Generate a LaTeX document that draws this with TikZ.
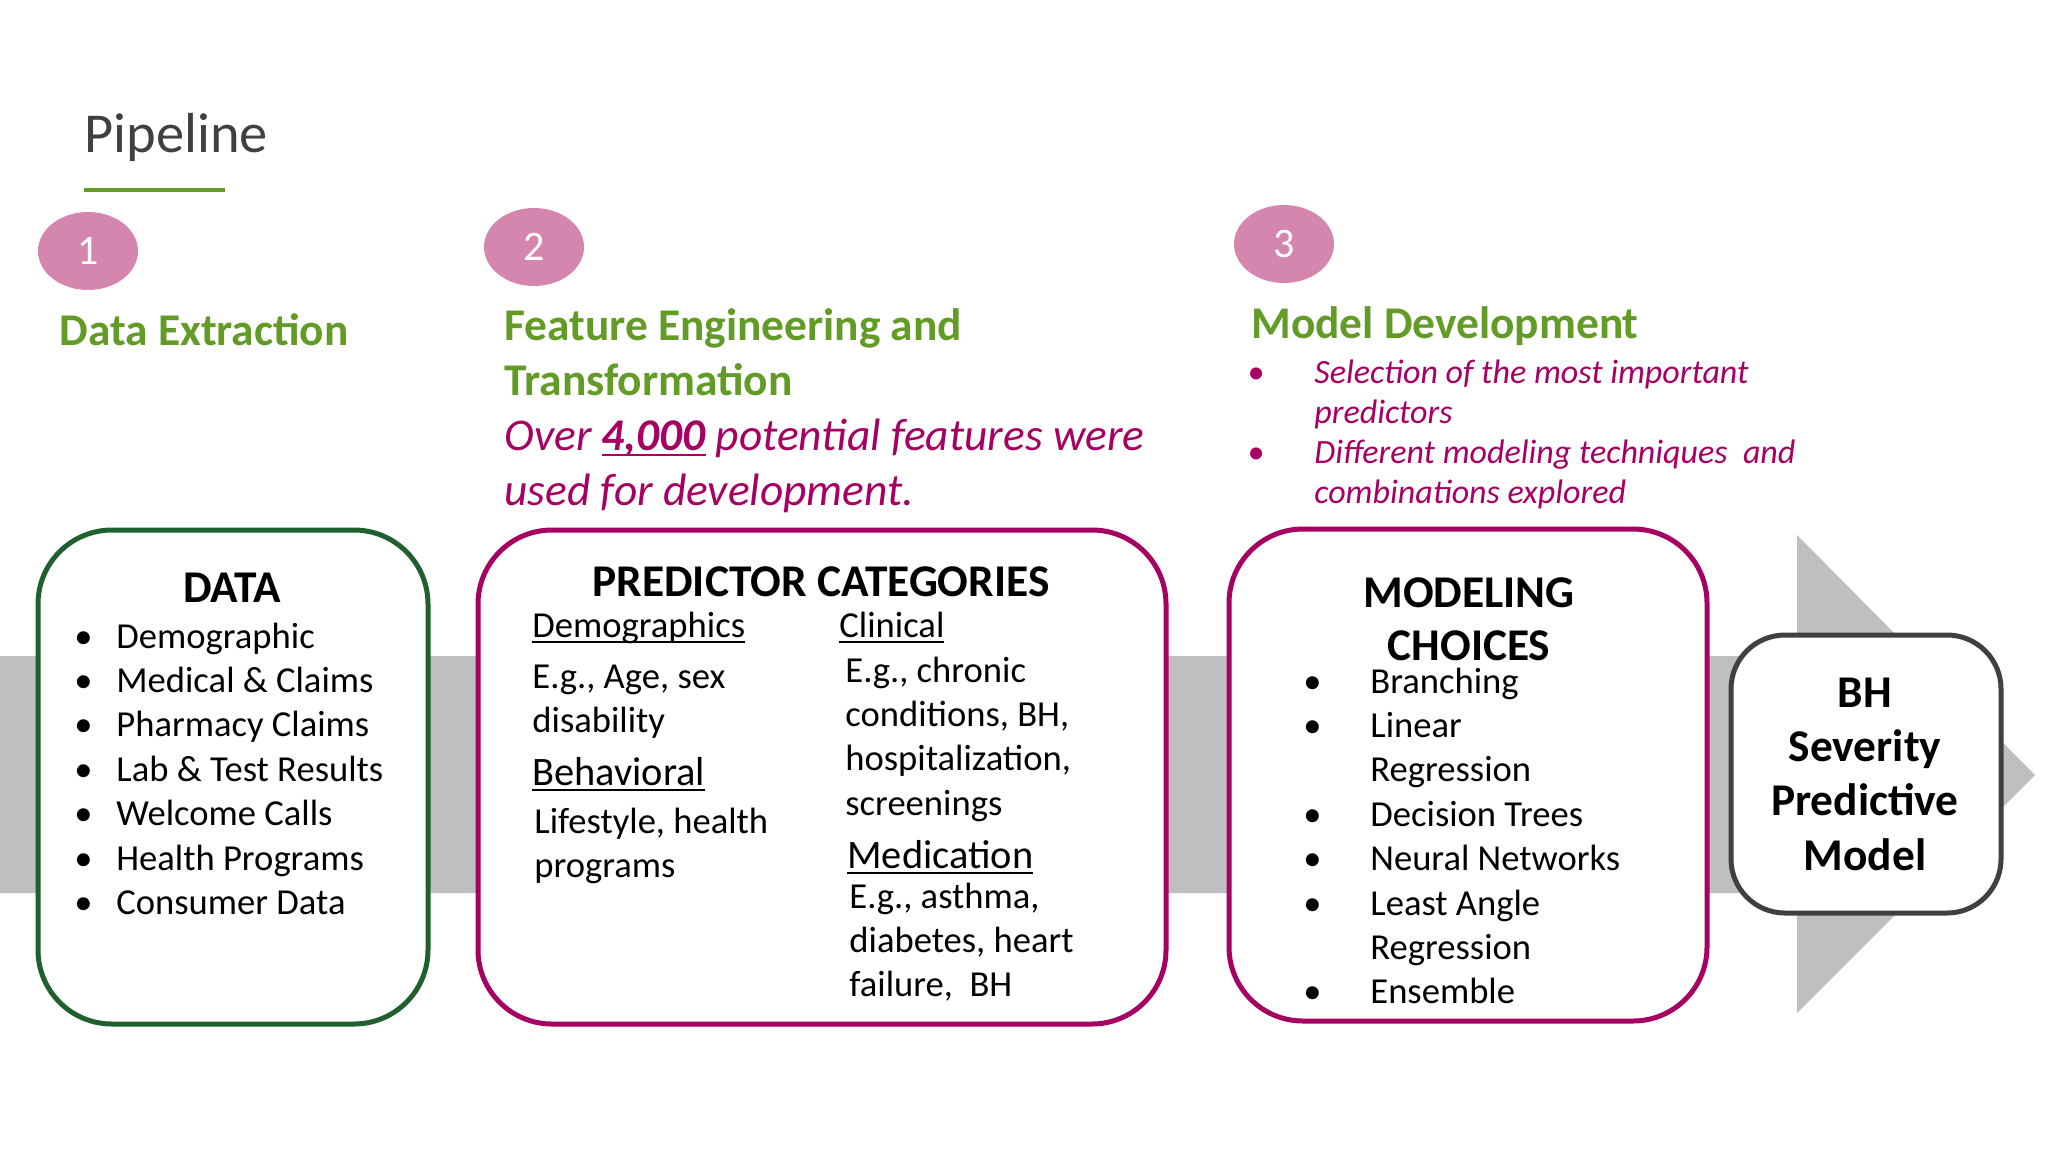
\documentclass[tikz,border=0pt]{standalone}
\usepackage{fontspec}
\setmainfont{Carlito}
\usetikzlibrary{positioning}

\definecolor{headgreen}{RGB}{98,155,38}
\definecolor{boxgreen}{RGB}{32,96,46}
\definecolor{plum}{RGB}{166,0,98}
\definecolor{bubble}{RGB}{212,134,174}
\definecolor{band}{RGB}{191,191,193}
\definecolor{ink}{RGB}{64,64,64}

\newcommand\ulx[1]{\setbox0\hbox{#1}\rlap{\rule[-3.2pt]{\wd0}{1.4pt}}#1}
\newcommand\bulw[1]{\makebox[#1][l]{\textbullet}}
% first line of a block sits on the node's base
\newcommand\leftlines[1]{\begin{tabular}[t]{@{}l@{}}#1\end{tabular}}
\newcommand\midlines[1]{\begin{tabular}[t]{@{}c@{}}#1\end{tabular}}

\begin{document}
\begin{tikzpicture}[x=0.5pt, y=-0.5pt,
    stepnum/.style={text=white, font=\fontsize{21}{25}\selectfont},
    heading/.style={anchor=base west, inner sep=0pt, text=headgreen,
      font=\fontsize{22.7}{27.5}\selectfont\bfseries},
    note/.style={anchor=base west, inner sep=0pt, text=plum},
    roundbox/.style={draw, fill=white, line width=2.5pt, rounded corners=37pt},
    boxtitle/.style={anchor=base, inner sep=0pt, font=\fontsize{22.7}{26.5}\selectfont\bfseries},
    body/.style={anchor=base west, inner sep=0pt, font=\fontsize{18.3}{22.2}\selectfont},
    cat/.style={anchor=base west, inner sep=0pt, font=\fontsize{20.2}{24}\selectfont}]
  \useasboundingbox (0,0) rectangle (2048,1152);

  % grey arrow behind the boxes
  \fill[band] (0,656) -- (1797,656) -- (1797,535) -- (2035,775) -- (1797,1013) -- (1797,893) -- (0,893) -- cycle;

  % title
  \node[anchor=base west, inner sep=0pt, text=ink, font=\fontsize{28.2}{32}\selectfont] (title) at (84,152) {Pipeline};
  \draw[headgreen, line width=2pt] (84,190) -- (225,190);

  % steps
  \fill[bubble] (88,251) ellipse [x radius=50, y radius=39];
  \node[stepnum] (one) at (88,251) {1};
  \fill[bubble] (534,247) ellipse [x radius=50, y radius=39];
  \node[stepnum] (two) at (534,247) {2};
  \fill[bubble] (1284,244) ellipse [x radius=50, y radius=39];
  \node[stepnum] (three) at (1284,244) {3};

  \node[heading] (extract) at (59,345) {Data Extraction};
  \node[heading] (feature) at (504,340) {\leftlines{Feature Engineering and\\Transformation}};
  \node[note, font=\fontsize{22.7}{27.5}\selectfont\itshape] (over) at (504,450)
    {\leftlines{Over \ulx{\textbf{4,000}} potential features were\\used for development.}};
  \node[heading] (modeldev) at (1251,338) {Model Development};
  \node[note, font=\fontsize{17}{20}\selectfont\itshape] (selection) at (1247,383)
    {\leftlines{\bulw{33.5pt}Selection of the most important\\\hspace{33.5pt}predictors\\
     \bulw{33.5pt}Different modeling techniques~ and\\\hspace{33.5pt}combinations explored}};

  % boxes
  \node[roundbox, draw=boxgreen, minimum width=195pt, minimum height=247pt] (data) at (233,777) {};
  \node[roundbox, draw=plum, minimum width=344pt, minimum height=247pt] (pred) at (822,777) {};
  \node[roundbox, draw=plum, minimum width=239pt, minimum height=246pt] (modeling) at (1468,775) {};
  \node[roundbox, draw=ink, rounded corners=27pt, minimum width=135pt, minimum height=139pt] (bh) at (1866,774) {};

  % data box
  \node[boxtitle] (datatitle) at (232,602) {DATA};
  \node[body] (datalist) at (74,648)
    {\leftlines{\bulw{21pt}Demographic\\\bulw{21pt}Medical \& Claims\\\bulw{21pt}Pharmacy Claims\\
     \bulw{21pt}Lab \& Test Results\\\bulw{21pt}Welcome Calls\\\bulw{21pt}Health Programs\\
     \bulw{21pt}Consumer Data}};

  % predictor box
  \node[boxtitle] (predtitle) at (821,596) {PREDICTOR CATEGORIES};
  \node[body] (demo) at (532,637) {\ulx{Demographics}};
  \node[body] (clin) at (839,637) {\ulx{Clinical}};
  \node[body] (demotext) at (532,688) {\leftlines{E.g., Age, sex\\disability}};
  \node[cat] (behav) at (532,785) {\ulx{Behavioral}};
  \node[body] (behavtext) at (534,833) {\leftlines{Lifestyle, health\\programs}};
  \node[body] (clintext) at (845,682) {\leftlines{E.g., chronic\\conditions, BH,\\hospitalization,\\screenings}};
  \node[cat] (medic) at (847,868) {\ulx{Medication}};
  \node[body] (medictext) at (849,908) {\leftlines{E.g., asthma,\\diabetes, heart\\failure,~ BH}};

  % modeling box
  \node[boxtitle] (modtitle) at (1469,607) {\midlines{MODELING\\CHOICES}};
  \node[body] (modlist) at (1303,693)
    {\leftlines{\bulw{33.5pt}Branching\\\bulw{33.5pt}Linear\\\hspace{33.5pt}Regression\\
     \bulw{33.5pt}Decision Trees\\\bulw{33.5pt}Neural Networks\\\bulw{33.5pt}Least Angle\\
     \hspace{33.5pt}Regression\\\bulw{33.5pt}Ensemble}};

  % result box
  \node[boxtitle, font=\fontsize{22.7}{27.2}\selectfont\bfseries] (bhtext) at (1865,707)
    {\midlines{BH\\Severity\\Predictive\\Model}};
\end{tikzpicture}
\end{document}
